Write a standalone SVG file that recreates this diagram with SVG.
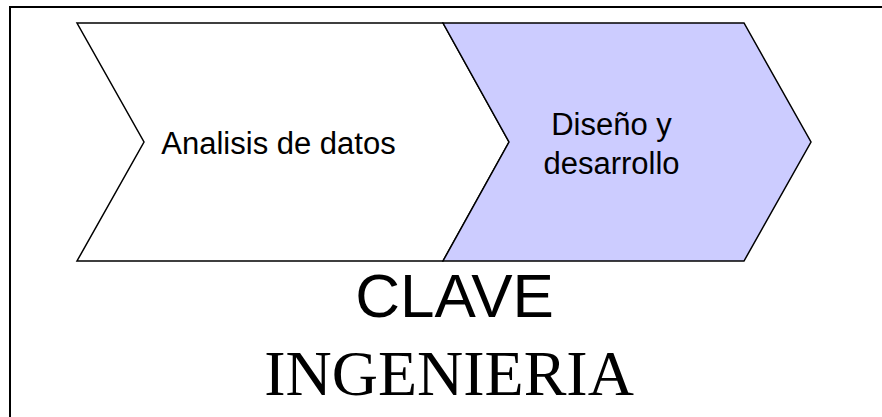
<svg xmlns="http://www.w3.org/2000/svg" width="882" height="417" viewBox="0 0 882 417">
<style>
.frame{fill:none;stroke:#000;stroke-width:2}
.chev{stroke:#000;stroke-width:1.5;stroke-linejoin:miter}
.lbl{font-family:"Liberation Sans",Arial,sans-serif;font-size:31px;fill:#000;text-anchor:middle}
.title{font-family:"Liberation Sans",Arial,sans-serif;font-size:62px;fill:#000;text-anchor:middle}
.sub{font-family:"Liberation Serif","Times New Roman",serif;font-size:64px;fill:#000;text-anchor:middle}
</style>
<rect width="882" height="417" fill="#fff"/>
<path class="frame" d="M10,430 L10,7 L890,7"/>
<g id="node-analisis">
<polygon class="chev" fill="#fff" points="77,23 443,23 509,142 443,261 77,261 144,142"/>
<text class="lbl" x="278.5" y="154">Analisis de datos</text>
</g>
<g id="node-diseno">
<polygon class="chev" fill="#CCCCFF" points="443,23 744,23 811,142 744,261 443,261 509,142"/>
<text class="lbl" x="611.5" y="135">Diseño y</text>
<text class="lbl" x="611.5" y="174">desarrollo</text>
</g>
<g id="connectors"></g>
<text class="title" x="454.5" y="317">CLAVE</text>
<text class="sub" x="449" y="395">INGENIERIA</text>
</svg>
